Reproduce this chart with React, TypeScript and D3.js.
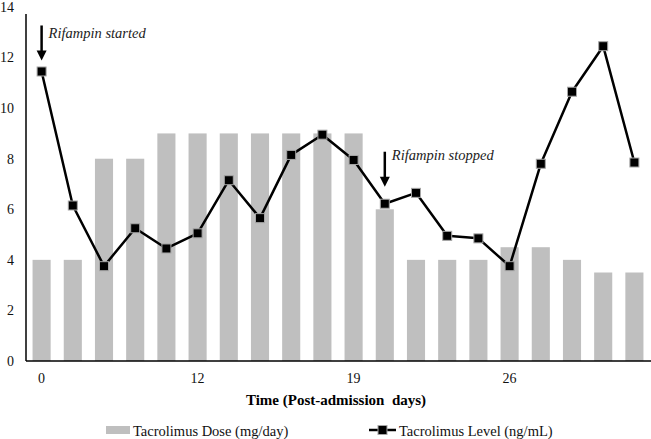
import * as d3 from "d3"

// categories = sampling points along the stay; only some carry a day label
const categories = d3.range(20).map(String)
const tickLabels: Record<string, string> = { "0": "0", "5": "12", "10": "19", "15": "26" }

const doseValues = [4, 4, 8, 8, 9, 9, 9, 9, 9, 9, 9, 6, 4, 4, 4, 4.5, 4.5, 4, 3.5, 3.5]
const levelValues = [11.45, 6.15, 3.75, 5.25, 4.45, 5.05, 7.15, 5.65, 8.15, 8.95, 7.95, 6.22, 6.65, 4.95, 4.85, 3.75, 7.8, 10.65, 12.45, 7.85]
const yTicks = [0, 2, 4, 6, 8, 10, 12, 14]

// gap: space between arrow tip and marker, textDy: label baseline below arrow top
const annotations = [
  { index: 0, label: "Rifampin started", gap: 11, textDy: 13 },
  { index: 11, label: "Rifampin stopped", gap: 17, textDy: 8 },
]

const W = 651
const H = 439
const margin = { top: 7, right: 1, bottom: 78, left: 26 }
const serif = { fontFamily: "'Liberation Serif'" }

export default function App() {
  const x = d3.scaleBand<string>()
    .domain(categories)
    .range([margin.left, W - margin.right])
    .paddingInner(0.42)
    .paddingOuter(0.21)

  const y = d3.scaleLinear()
    .domain([0, 14])
    .range([H - margin.bottom, margin.top])

  const cx = (i: number) => (x(categories[i]) ?? 0) + x.bandwidth() / 2

  const line = d3.line<number>()
    .x((_d, i) => cx(i))
    .y(d => y(d))

  const base = y(0)

  return (
    <svg width={W} height={H} style={{ position: "absolute", left: 0, top: 0, background: "#fff" }}>
      {/* bars */}
      {doseValues.map((v, i) => (
        <rect key={i} x={x(categories[i])} y={y(v)} width={x.bandwidth()} height={base - y(v)} fill="#bfbfbf" />
      ))}

      {/* axes */}
      <line x1={margin.left} x2={margin.left} y1={14} y2={base} stroke="#000" strokeWidth={1.5} />
      <line x1={margin.left} x2={W} y1={base} y2={base} stroke="#000" strokeWidth={1.5} />
      {yTicks.map(t => (
        <text key={t} x={14} y={y(t)} dy="0.35em" textAnchor="end" fontSize={14} fill="#111" style={serif}>{t}</text>
      ))}
      {categories.map((c, i) => tickLabels[c] ? (
        <text key={c} x={cx(i)} y={base + 22} textAnchor="middle" fontSize={14} fill="#111" style={serif}>{tickLabels[c]}</text>
      ) : null)}
      <text x={336} y={405} textAnchor="middle" fontSize={15} fontWeight="bold" style={{ ...serif, whiteSpace: "pre" }}>Time (Post-admission  days)</text>

      {/* level line */}
      <path d={line(levelValues) ?? ""} fill="none" stroke="#000" strokeWidth={2.5} strokeLinejoin="round" />
      {levelValues.map((v, i) => (
        <rect key={i} x={cx(i) - 4.5} y={y(v) - 4.5} width={9} height={9} fill="#000" stroke="#a6a6a6" strokeWidth={1} />
      ))}

      {/* annotations */}
      {annotations.map(a => {
        const ax = cx(a.index)
        const tip = y(levelValues[a.index]) - a.gap
        const top = tip - 35
        return (
          <g key={a.label}>
            <line x1={ax} x2={ax} y1={top} y2={tip - 8} stroke="#000" strokeWidth={2.5} />
            <path d={`M${ax - 5},${tip - 10}L${ax + 5},${tip - 10}L${ax},${tip}Z`} fill="#000" />
            <text x={ax + 7} y={top + a.textDy} fontSize={14.5} fontStyle="italic" fill="#222" style={serif}>{a.label}</text>
          </g>
        )
      })}

      {/* legend */}
      <rect x={106} y={426} width={24} height={8} fill="#bfbfbf" />
      <text x={133} y={436} fontSize={14.5} fill="#111" style={serif}>Tacrolimus Dose (mg/day)</text>
      <line x1={369} x2={396} y1={430} y2={430} stroke="#000" strokeWidth={2.5} />
      <rect x={378} y={425.5} width={9} height={9} fill="#000" stroke="#a6a6a6" strokeWidth={1} />
      <text x={399} y={436} fontSize={14.5} fill="#111" style={serif}>Tacrolimus Level (ng/mL)</text>
    </svg>
  )
}
